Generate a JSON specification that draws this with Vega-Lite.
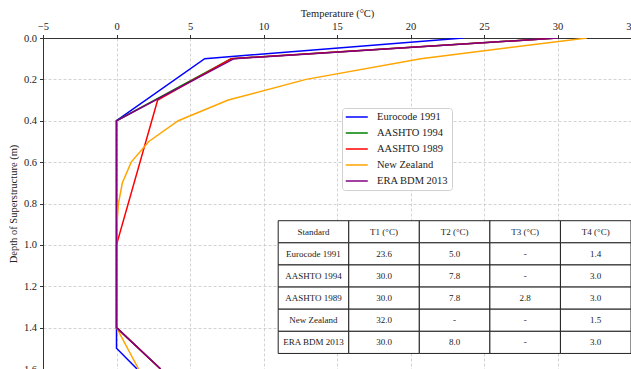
{
  "$schema": "https://vega.github.io/schema/vega-lite/v6.json",
  "autosize": {"type": "none"},
  "padding": {"left": 43, "top": 38, "right": 0, "bottom": 0},
  "width": 588,
  "height": 331,
  "background": "white",
  "config": {
    "font": "Liberation Serif",
    "view": {"stroke": "#333333", "strokeWidth": 1},
    "axis": {
      "labelFont": "Liberation Serif",
      "titleFont": "Liberation Serif",
      "labelFontSize": 10.5,
      "titleFontSize": 10.5,
      "titleFontWeight": "normal",
      "labelColor": "#222222",
      "titleColor": "#222222",
      "domainColor": "#333333",
      "tickColor": "#333333",
      "tickSize": 3.5,
      "gridColor": "#c8c8c8",
      "gridDash": [3, 2],
      "gridWidth": 0.8,
      "labelFlush": false,
      "labelOverlap": false,
      "labelBound": false
    },
    "legend": {
      "labelFont": "Liberation Serif",
      "labelFontSize": 10.5,
      "labelColor": "#222222"
    }
  },
  "datasets": {
    "lines": [
      {"standard": "Eurocode 1991", "temp": 23.6, "depth": 0.0},
      {"standard": "Eurocode 1991", "temp": 6.0, "depth": 0.1},
      {"standard": "Eurocode 1991", "temp": 0.0, "depth": 0.4},
      {"standard": "Eurocode 1991", "temp": 0.0, "depth": 1.5},
      {"standard": "Eurocode 1991", "temp": 1.4, "depth": 1.6},
      {"standard": "AASHTO 1994", "temp": 30.0, "depth": 0.0},
      {"standard": "AASHTO 1994", "temp": 7.8, "depth": 0.1},
      {"standard": "AASHTO 1994", "temp": 0.0, "depth": 0.4},
      {"standard": "AASHTO 1994", "temp": 0.0, "depth": 1.4},
      {"standard": "AASHTO 1994", "temp": 3.0, "depth": 1.6},
      {"standard": "AASHTO 1989", "temp": 30.0, "depth": 0.0},
      {"standard": "AASHTO 1989", "temp": 7.8, "depth": 0.1},
      {"standard": "AASHTO 1989", "temp": 2.8, "depth": 0.3},
      {"standard": "AASHTO 1989", "temp": 0.0, "depth": 1.0},
      {"standard": "AASHTO 1989", "temp": 0.0, "depth": 1.4},
      {"standard": "AASHTO 1989", "temp": 3.0, "depth": 1.6},
      {"standard": "New Zealand", "temp": 32.0, "depth": 0.0},
      {"standard": "New Zealand", "temp": 20.7, "depth": 0.1},
      {"standard": "New Zealand", "temp": 12.9, "depth": 0.2},
      {"standard": "New Zealand", "temp": 7.6, "depth": 0.3},
      {"standard": "New Zealand", "temp": 4.2, "depth": 0.4},
      {"standard": "New Zealand", "temp": 2.2, "depth": 0.5},
      {"standard": "New Zealand", "temp": 1.0, "depth": 0.6},
      {"standard": "New Zealand", "temp": 0.4, "depth": 0.7},
      {"standard": "New Zealand", "temp": 0.13, "depth": 0.8},
      {"standard": "New Zealand", "temp": 0.03, "depth": 0.9},
      {"standard": "New Zealand", "temp": 0.0, "depth": 1.0},
      {"standard": "New Zealand", "temp": 0.0, "depth": 1.2},
      {"standard": "New Zealand", "temp": 0.0, "depth": 1.4},
      {"standard": "New Zealand", "temp": 1.5, "depth": 1.6},
      {"standard": "ERA BDM 2013", "temp": 30.0, "depth": 0.0},
      {"standard": "ERA BDM 2013", "temp": 8.0, "depth": 0.1},
      {"standard": "ERA BDM 2013", "temp": 0.0, "depth": 0.4},
      {"standard": "ERA BDM 2013", "temp": 0.0, "depth": 1.4},
      {"standard": "ERA BDM 2013", "temp": 3.0, "depth": 1.6}
    ],
    "table": [
      {"row": "Standard", "col": "Standard", "text": "Standard"},
      {"row": "Standard", "col": "T1 (°C)", "text": "T1 (°C)"},
      {"row": "Standard", "col": "T2 (°C)", "text": "T2 (°C)"},
      {"row": "Standard", "col": "T3 (°C)", "text": "T3 (°C)"},
      {"row": "Standard", "col": "T4 (°C)", "text": "T4 (°C)"},
      {"row": "Eurocode 1991", "col": "Standard", "text": "Eurocode 1991"},
      {"row": "Eurocode 1991", "col": "T1 (°C)", "text": "23.6"},
      {"row": "Eurocode 1991", "col": "T2 (°C)", "text": "5.0"},
      {"row": "Eurocode 1991", "col": "T3 (°C)", "text": "-"},
      {"row": "Eurocode 1991", "col": "T4 (°C)", "text": "1.4"},
      {"row": "AASHTO 1994", "col": "Standard", "text": "AASHTO 1994"},
      {"row": "AASHTO 1994", "col": "T1 (°C)", "text": "30.0"},
      {"row": "AASHTO 1994", "col": "T2 (°C)", "text": "7.8"},
      {"row": "AASHTO 1994", "col": "T3 (°C)", "text": "-"},
      {"row": "AASHTO 1994", "col": "T4 (°C)", "text": "3.0"},
      {"row": "AASHTO 1989", "col": "Standard", "text": "AASHTO 1989"},
      {"row": "AASHTO 1989", "col": "T1 (°C)", "text": "30.0"},
      {"row": "AASHTO 1989", "col": "T2 (°C)", "text": "7.8"},
      {"row": "AASHTO 1989", "col": "T3 (°C)", "text": "2.8"},
      {"row": "AASHTO 1989", "col": "T4 (°C)", "text": "3.0"},
      {"row": "New Zealand", "col": "Standard", "text": "New Zealand"},
      {"row": "New Zealand", "col": "T1 (°C)", "text": "32.0"},
      {"row": "New Zealand", "col": "T2 (°C)", "text": "-"},
      {"row": "New Zealand", "col": "T3 (°C)", "text": "-"},
      {"row": "New Zealand", "col": "T4 (°C)", "text": "1.5"},
      {"row": "ERA BDM 2013", "col": "Standard", "text": "ERA BDM 2013"},
      {"row": "ERA BDM 2013", "col": "T1 (°C)", "text": "30.0"},
      {"row": "ERA BDM 2013", "col": "T2 (°C)", "text": "8.0"},
      {"row": "ERA BDM 2013", "col": "T3 (°C)", "text": "-"},
      {"row": "ERA BDM 2013", "col": "T4 (°C)", "text": "3.0"}
    ]
  },
  "layer": [
    {
      "data": {"name": "lines"},
      "mark": {"type": "line", "strokeWidth": 1.5, "clip": true},
      "encoding": {
        "x": {
          "field": "temp",
          "type": "quantitative",
          "scale": {"domain": [-5, 35], "nice": false, "zero": false},
          "axis": {
            "orient": "top",
            "title": "Temperature (°C)",
            "values": [-5, 0, 5, 10, 15, 20, 25, 30, 35],
            "labelPadding": 3,
            "titlePadding": 3
          }
        },
        "y": {
          "field": "depth",
          "type": "quantitative",
          "scale": {"domain": [0, 1.6], "reverse": true, "nice": false, "zero": false},
          "axis": {
            "orient": "left",
            "title": "Depth of Superstructure (m)",
            "values": [0, 0.2, 0.4, 0.6, 0.8, 1.0, 1.2, 1.4, 1.6],
            "format": ".1f",
            "labelPadding": 3,
            "titlePadding": 5
          }
        },
        "color": {
          "field": "standard",
          "type": "nominal",
          "sort": ["Eurocode 1991", "AASHTO 1994", "AASHTO 1989", "New Zealand", "ERA BDM 2013"],
          "scale": {
            "domain": ["Eurocode 1991", "AASHTO 1994", "AASHTO 1989", "New Zealand", "ERA BDM 2013"],
            "range": ["blue", "green", "red", "orange", "purple"]
          },
          "legend": {
            "title": null,
            "orient": "none",
            "legendX": 299,
            "legendY": 70,
            "symbolType": "M-1,0H3.2",
            "symbolStrokeWidth": 1.5,
            "symbolSize": 110,
            "labelOffset": 20,
            "rowPadding": 4,
            "padding": 3,
            "strokeColor": "#d0d0d0",
            "fillColor": "white",
            "cornerRadius": 3
          }
        },
        "order": {"field": "depth", "type": "quantitative"}
      }
    },
    {
      "data": {"name": "table"},
      "encoding": {
        "x": {
          "field": "col",
          "type": "nominal",
          "scale": {
            "type": "band",
            "domain": ["Standard", "T1 (°C)", "T2 (°C)", "T3 (°C)", "T4 (°C)"],
            "range": [{"expr": "width*0.4"}, {"expr": "width"}],
            "paddingInner": 0,
            "paddingOuter": 0
          },
          "axis": null
        },
        "y": {
          "field": "row",
          "type": "nominal",
          "scale": {
            "type": "band",
            "domain": ["Standard", "Eurocode 1991", "AASHTO 1994", "AASHTO 1989", "New Zealand", "ERA BDM 2013"],
            "range": [{"expr": "height*0.552"}, {"expr": "height*0.953"}],
            "paddingInner": 0,
            "paddingOuter": 0
          },
          "axis": null
        }
      },
      "layer": [
        {"mark": {"type": "rect", "fill": "white", "stroke": "#222222", "strokeWidth": 1}},
        {
          "mark": {"type": "text", "font": "Liberation Serif", "fontSize": 9, "color": "#222222", "baseline": "middle", "align": "center"},
          "encoding": {"text": {"field": "text", "type": "nominal"}}
        }
      ]
    }
  ],
  "resolve": {"scale": {"x": "independent", "y": "independent", "color": "independent"}, "axis": {"x": "independent", "y": "independent"}}
}
